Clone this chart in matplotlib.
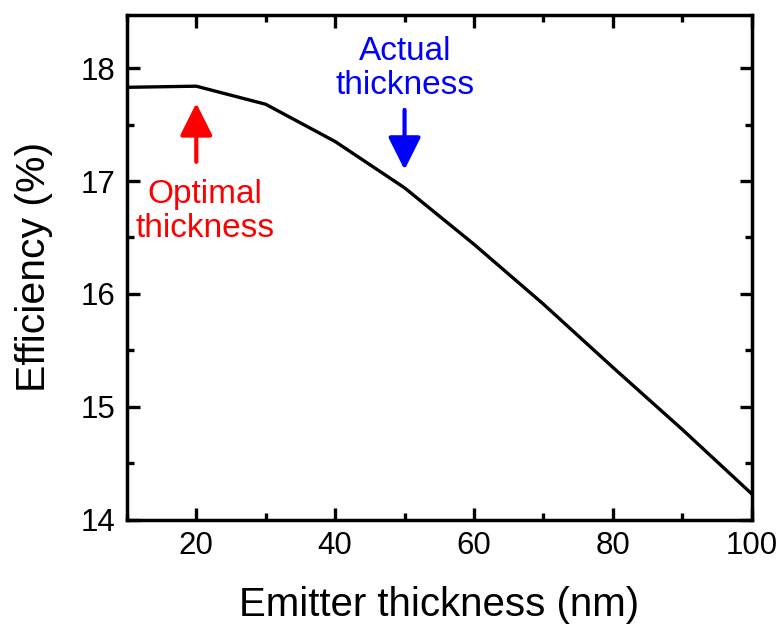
import matplotlib
matplotlib.use("Agg")
import matplotlib.pyplot as plt
from matplotlib.ticker import MultipleLocator

plt.rcParams['font.family'] = ['Liberation Sans', 'DejaVu Sans']

thickness = [10, 20, 30, 40, 50, 60, 70, 80, 90, 100]
efficiency = [17.83, 17.84, 17.68, 17.35, 16.94, 16.44, 15.91, 15.35, 14.80, 14.23]

fig = plt.figure(figsize=(7.83, 6.27), dpi=100)
ax = fig.add_axes([0.162, 0.171, 0.798, 0.805])

ax.plot(thickness, efficiency, color='black', lw=2.4)

ax.set_xlim(10, 100)
ax.set_ylim(14, 18.47)
ax.xaxis.set_major_locator(MultipleLocator(20))
ax.xaxis.set_minor_locator(MultipleLocator(10))
ax.yaxis.set_major_locator(MultipleLocator(1))
ax.yaxis.set_minor_locator(MultipleLocator(0.5))
ax.tick_params(which='both', direction='in', top=True, right=True, width=2.4, labelsize=22.5, pad=8)
ax.tick_params(which='major', length=9)
ax.tick_params(which='minor', length=5)
for s in ax.spines.values():
    s.set_linewidth(2.5)

ax.set_xlabel('Emitter thickness (nm)', fontsize=29, labelpad=18)
ax.set_ylabel('Efficiency (%)', fontsize=29.5, labelpad=20)

ax.annotate('', xy=(20, 17.69), xytext=(20, 17.17),
            arrowprops=dict(arrowstyle='-|>,head_width=0.5,head_length=1.0',
                            color='red', lw=3, mutation_scale=20, shrinkA=0, shrinkB=0))
ax.text(21.3, 16.73, 'Optimal\nthickness', color='red', fontsize=24,
        ha='center', va='center', linespacing=1.12)

ax.annotate('', xy=(50, 17.10), xytext=(50, 17.63),
            arrowprops=dict(arrowstyle='-|>,head_width=0.5,head_length=1.0',
                            color='blue', lw=3, mutation_scale=20, shrinkA=0, shrinkB=0))
ax.text(50.1, 18.0, 'Actual\nthickness', color='blue', fontsize=24,
        ha='center', va='center', linespacing=1.12)

fig.savefig('out.png', dpi=100)
